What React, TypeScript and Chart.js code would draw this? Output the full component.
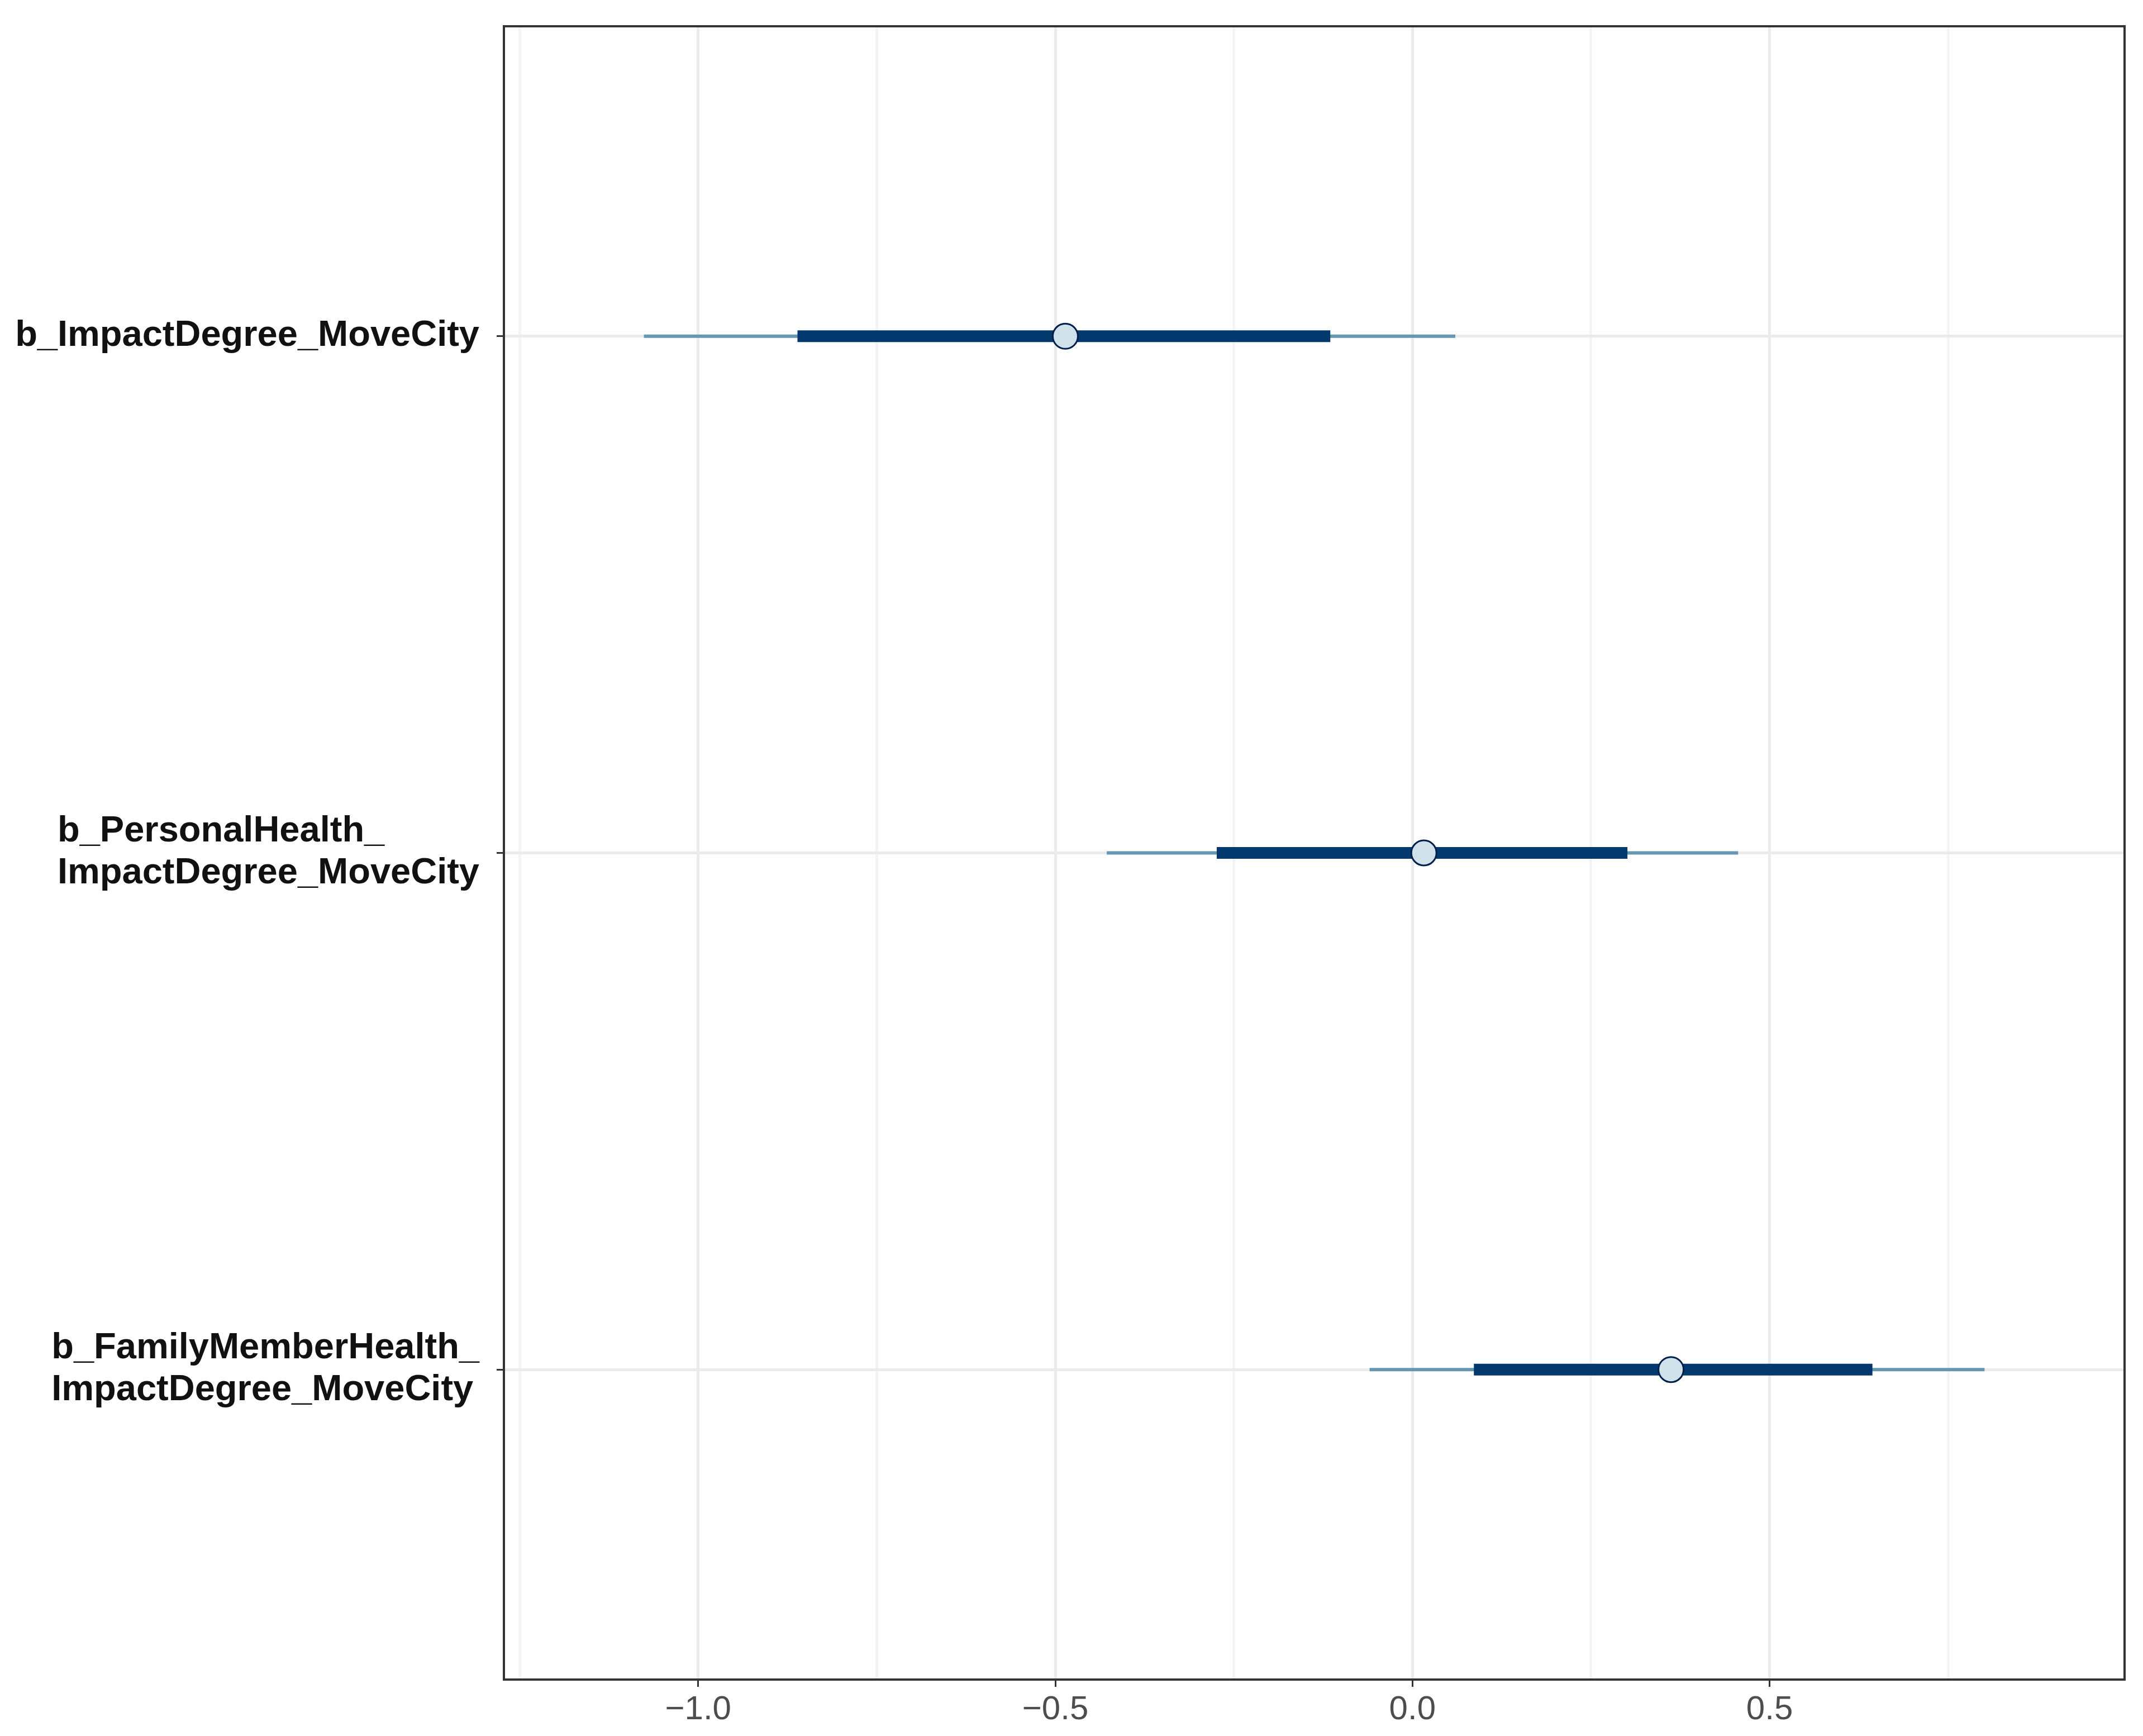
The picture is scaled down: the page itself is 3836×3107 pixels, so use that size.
import { useEffect, useRef } from 'react';
import { Chart, registerables } from 'chart.js';

Chart.register(...registerables);

// ---- data ----
const paramLabels: string[][] = [
  ['b_ImpactDegree_MoveCity'],
  ['b_PersonalHealth_', 'ImpactDegree_MoveCity'],
  ['b_FamilyMemberHealth_', 'ImpactDegree_MoveCity'],
];
const outerLow = [-1.076, -0.428, -0.060];
const innerLow = [-0.861, -0.274, 0.086];
const medians = [-0.486, 0.016, 0.362];
const innerHigh = [-0.115, 0.301, 0.644];
const outerHigh = [0.060, 0.456, 0.801];

const xMajorTicks = [-1, -0.5, 0, 0.5];
const xMajorLabels = ['\u22121.0', '\u22120.5', '0.0', '0.5'];
const xMinorTicks = [-1.25, -0.75, -0.25, 0.25, 0.75];
const xMin = -1.272;
const xMax = 0.997;
const yMin = -0.6;
const yMax = 2.6;

// ---- styles ----
const THIN = '#6497b1';
const THICK = '#03396c';
const PT_FILL = '#d1e1ec';
const PT_BORDER = '#011f4b';

const W = 3836;
const H = 3107;

const framePlugin = {
  id: 'frame',
  afterDatasetsDraw(chart: any) {
    const { ctx, chartArea: a } = chart;
    ctx.save();
    ctx.strokeStyle = '#333333';
    ctx.lineWidth = 4;
    ctx.strokeRect(a.left, a.top, a.right - a.left, a.bottom - a.top);
    ctx.restore();
  },
};

const yLabelPlugin = {
  id: 'yLabels',
  afterDraw(chart: any) {
    const { ctx } = chart;
    const ys = chart.scales.y;
    ctx.save();
    ctx.font = 'bold 65px "Liberation Sans", Arial, sans-serif';
    ctx.fillStyle = '#111111';
    ctx.textAlign = 'left';
    ctx.textBaseline = 'alphabetic';
    const right = ys.right - 13 - 31;
    paramLabels.forEach((lines, i) => {
      const py = ys.getPixelForValue(i);
      const w = Math.max(...lines.map((l) => ctx.measureText(l).width));
      const x0 = right - w;
      lines.forEach((line, k) => {
        const capCenter = py - 6 + (k - (lines.length - 1) / 2) * 75;
        ctx.fillText(line, x0, capCenter + 23);
      });
    });
    ctx.restore();
  },
};

export default function App() {
  const ref = useRef<HTMLCanvasElement | null>(null);

  useEffect(() => {
    if (!ref.current) return;
    const isMajor = (v: number) => xMajorTicks.some((m) => Math.abs(m - v) < 1e-9);
    const allX = [...xMinorTicks, ...xMajorTicks].sort((a, b) => a - b);

    const pointData = medians.map((m, i) => ({ x: m, y: i }));
    const thickSets = innerLow.map((lo, i) => ({
      type: 'line' as const,
      data: [
        { x: lo, y: i },
        { x: innerHigh[i], y: i },
      ],
      borderColor: THICK,
      borderWidth: 21,
      borderCapStyle: 'butt' as const,
      pointRadius: 0,
      showLine: true,
    }));
    const thinSets = outerLow.map((lo, i) => ({
      type: 'line' as const,
      data: [
        { x: lo, y: i },
        { x: outerHigh[i], y: i },
      ],
      borderColor: THIN,
      borderWidth: 6,
      borderCapStyle: 'butt' as const,
      pointRadius: 0,
      showLine: true,
    }));

    const chart = new Chart(ref.current, {
      type: 'scatter',
      data: {
        datasets: [
          {
            data: pointData,
            pointRadius: 22.5,
            pointBackgroundColor: PT_FILL,
            pointBorderColor: PT_BORDER,
            pointBorderWidth: 3,
            showLine: false,
          } as any,
          ...thickSets,
          ...thinSets,
        ],
      },
      options: {
        animation: false,
        responsive: false,
        devicePixelRatio: 1,
        events: [],
        layout: { padding: { top: 47, right: 33, bottom: 0, left: 0 } },
        plugins: {
          legend: { display: false },
          tooltip: { enabled: false },
        },
        scales: {
          x: {
            type: 'linear',
            position: 'bottom',
            min: xMin,
            max: xMax,
            afterBuildTicks: (scale: any) => {
              scale.ticks = allX.map((v) => ({ value: v }));
            },
            afterFit: (scale: any) => {
              scale.height = 101;
            },
            ticks: {
              autoSkip: false,
              maxRotation: 0,
              minRotation: 0,
              padding: 5,
              color: '#4d4d4d',
              font: { family: '"Liberation Sans", Arial, sans-serif', size: 60 },
              callback: (value: any) => {
                const idx = xMajorTicks.findIndex((m) => Math.abs(m - Number(value)) < 1e-9);
                return idx >= 0 ? xMajorLabels[idx] : '';
              },
            },
            grid: {
              color: (ctx: any) => (ctx.tick && isMajor(ctx.tick.value) ? '#ebebeb' : '#f4f4f4'),
              lineWidth: 5,
              drawTicks: true,
              tickLength: 13,
              tickWidth: 3,
              tickColor: (ctx: any) =>
                ctx.tick && isMajor(ctx.tick.value) ? '#333333' : 'rgba(0,0,0,0)',
            },
            border: { display: false },
          },
          y: {
            type: 'linear',
            position: 'left',
            min: yMin,
            max: yMax,
            reverse: true,
            afterBuildTicks: (scale: any) => {
              scale.ticks = paramLabels.map((_, i) => ({ value: i }));
            },
            afterFit: (scale: any) => {
              scale.width = 902;
            },
            ticks: { display: false },
            grid: {
              color: '#ebebeb',
              lineWidth: 5,
              drawTicks: true,
              tickLength: 13,
              tickWidth: 3,
              tickColor: '#333333',
            },
            border: { display: false },
          },
        },
      },
      plugins: [framePlugin, yLabelPlugin],
    } as any);

    return () => chart.destroy();
  }, []);

  return (
    <div style={{ position: 'absolute', left: 0, top: 0, width: W, height: H, background: '#ffffff' }}>
      <canvas ref={ref} width={W} height={H} style={{ display: 'block', width: W, height: H }} />
    </div>
  );
}
